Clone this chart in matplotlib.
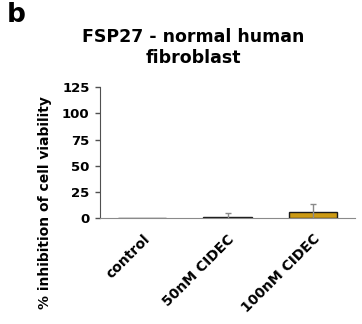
import matplotlib
matplotlib.use("Agg")
import matplotlib.pyplot as plt
import numpy as np

plt.rcParams['font.family'] = ['DejaVu Sans']
plt.rcParams['font.weight'] = 'bold'

# treatment groups and mean % inhibition with SD
groups = ["control", "50nM CIDEC", "100nM CIDEC"]
means = [0, 1, 6]
errs = [0, 4, 7.4]
yticks = [0, 25, 50, 75, 100, 125]

fig = plt.figure(figsize=(3.62, 3.24), dpi=100)
ax = fig.add_axes([0.276, 0.327, 0.705, 0.404])

x = np.arange(len(groups))
ax.bar(x, means, width=0.565, color="#cc9a14", edgecolor="#1a1a1a", linewidth=1.0, zorder=2)
ax.errorbar(x[1:], means[1:], yerr=errs[1:], fmt="none",
            ecolor="#8a8a8a", elinewidth=1.0, capsize=2.2, capthick=1.0, zorder=3)

ax.set_xlim(-0.5, 2.5)
ax.set_ylim(0, 125)
ax.set_yticks(yticks)
ax.set_yticklabels([str(t) for t in yticks], fontsize=9.5, fontweight='bold')
ax.set_xticks(x)
ax.set_xticklabels(groups, rotation=45, ha='right', rotation_mode='anchor',
                   fontsize=10, fontweight='bold')
ax.tick_params(axis='x', length=0, pad=10)
ax.tick_params(axis='y', length=3.5, width=1, color="#505050", pad=4)

for s in ["top", "right"]:
    ax.spines[s].set_visible(False)
ax.spines["left"].set_color("#505050")
ax.spines["bottom"].set_color("#8a8a8a")

ax.set_ylabel("% inhibition of cell viability", fontsize=10, fontweight='bold')
ax.yaxis.set_label_coords(-0.188, 0.118)

fig.text(0.535, 0.914, "FSP27 - normal human\nfibroblast", fontsize=12.5,
         fontweight='bold', ha='center', va='top', linespacing=1.25)
fig.text(0.02, 0.995, "b", fontsize=19, fontweight='bold', va='top', ha='left')

fig.savefig("out.png", dpi=100)
